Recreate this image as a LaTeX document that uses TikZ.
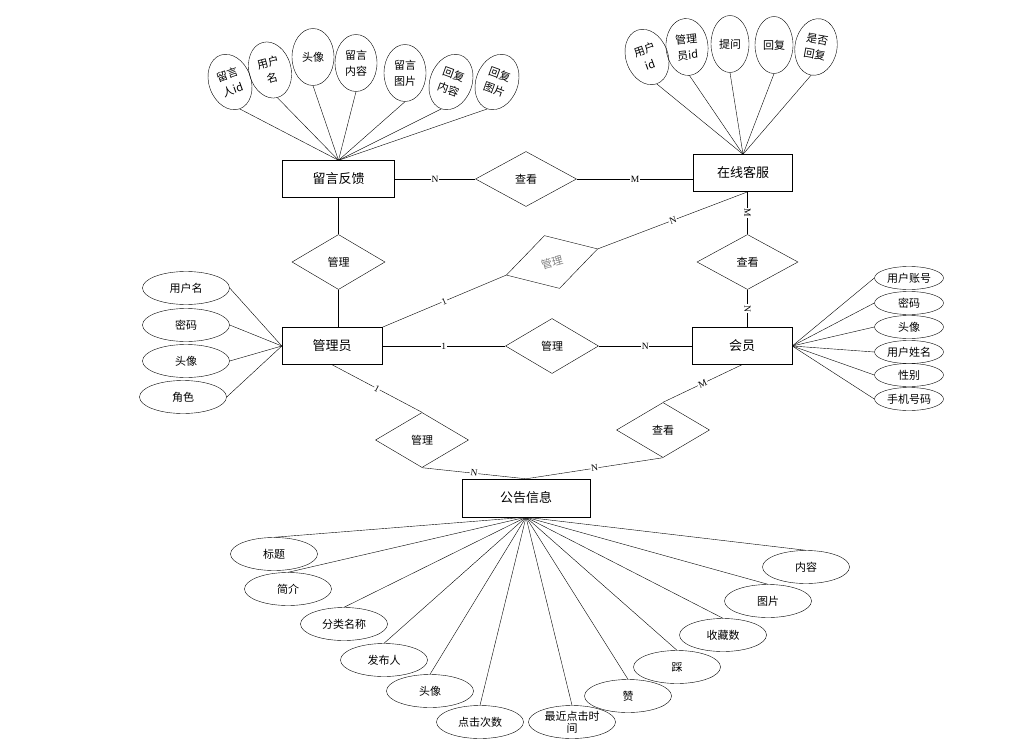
\documentclass[tikz,border=0pt]{standalone}
\usepackage{fontspec}
\newfontfamily\cjk{Noto Sans CJK SC}
\newfontfamily\cardfont{Liberation Serif}
\usetikzlibrary{shapes.geometric}

\begin{document}
\begin{tikzpicture}[x=1pt, y=-1pt,
	entity/.style={draw, rectangle, minimum width=100pt, minimum height=37pt, font=\cjk\fontsize{13}{15}\selectfont},
	relation/.style={draw, diamond, minimum width=93pt, minimum height=55pt, inner sep=0pt, font=\cjk\fontsize{11}{13}\selectfont},
	attr/.style={draw, ellipse, minimum width=87pt, minimum height=33pt, inner sep=0pt, align=center, font=\cjk\fontsize{11}{12}\selectfont},
	vattr/.style={draw, ellipse, minimum width=42pt, minimum height=57pt, inner sep=0pt, align=center, font=\cjk\fontsize{11}{16}\selectfont},
	sattr/.style={draw, ellipse, minimum width=69pt, minimum height=23pt, inner sep=0pt, font=\cjk\fontsize{11}{13}\selectfont},
	card/.style={fill=white, inner sep=0.6pt, sloped, font=\cardfont\fontsize{9.5}{10}\selectfont}]
	\useasboundingbox (0,0) rectangle (1016,746);

	% entities
	\node[entity, minimum width=112pt] (lyfk) at (338.5,179) {留言反馈};
	\node[entity, minimum width=99pt] (kf) at (743,173) {在线客服};
	\node[entity] (gly) at (332,346) {管理员};
	\node[entity] (hy) at (742,346) {会员};
	\node[entity, minimum width=128pt, minimum height=38pt] (ggxx) at (526,498) {公告信息};

	% relations
	\node[relation, minimum width=101pt] (ck1) at (526,179) {查看};
	\node[relation] (gl1) at (338.5,262) {管理};
	\node[relation, minimum width=95pt, rotate=16, text=gray] (gl2) at (552,262) {管理};
	\node[relation, minimum width=101pt] (ck2) at (747.5,262) {查看};
	\node[relation] (gl3) at (552,346) {管理};
	\node[relation] (gl4) at (422,440) {管理};
	\node[relation] (ck3) at (663,430) {查看};

	\draw (lyfk.east) -- node[card] {N} (ck1.west);
	\draw (ck1.east) -- node[card] {M} (ck1.east -| kf.west);
	\draw (lyfk.south) -- (gl1.north);
	\draw (gl1.south) -- (gl1.south |- gly.north);
	\draw (gly.north east) -- node[card] {1} (gl2.west);
	\draw (gl2.east) -- node[card] {N} ([xshift=5pt]kf.south);
	\draw (gly.east) -- node[card] {1} (gl3.west);
	\draw (gl3.east) -- node[card] {N} (hy.west);
	\draw (ck2.north |- kf.south) -- node[card] {M} (ck2.north);
	\draw (ck2.south) -- node[card] {N} (ck2.south |- hy.north);
	\draw (gly.south) -- node[card] {1} (gl4.north);
	\draw (gl4.south) -- node[card] {N} (ggxx.north);
	\draw (hy.south) -- node[card] {M} (ck3.north);
	\draw (ck3.south) -- node[card] {N} (ggxx.north);

	% 留言反馈 attributes
	\node[vattr, rotate=20] (lyrid) at (230,82) {留言\\人id};
	\node[vattr, rotate=15] (lyyhm) at (270,70) {用户\\名};
	\node[vattr] (lytx) at (313,57) {头像};
	\node[vattr] (lynr) at (356,63) {留言\\内容};
	\node[vattr] (lytp) at (405,73) {留言\\图片};
	\node[vattr, rotate=-20] (hfnr) at (451,82) {回复\\内容};
	\node[vattr, rotate=-20] (hftp) at (497,82) {回复\\图片};
	\draw (lyrid.south) -- (lyfk.north);
	\draw (lyyhm.south) -- (lyfk.north);
	\draw (lytx.south) -- (lyfk.north);
	\draw (lynr.south) -- (lyfk.north);
	\draw (lytp.south) -- (lyfk.north);
	\draw (hfnr.south) -- (lyfk.north);
	\draw (hftp.south) -- (lyfk.north);

	% 在线客服 attributes
	\node[vattr, rotate=20] (yhid) at (647,57) {用户\\id};
	\node[vattr, rotate=5] (glyid) at (687,47) {管理\\员id};
	\node[vattr, minimum width=38pt] (tw) at (730,44) {提问};
	\node[vattr, minimum width=38pt] (hf) at (774,45) {回复};
	\node[vattr, rotate=-10] (sfhf) at (816,47) {是否\\回复};
	\draw (yhid.south) -- (kf.north);
	\draw (glyid.south) -- (kf.north);
	\draw (tw.south) -- (kf.north);
	\draw (hf.south) -- (kf.north);
	\draw (sfhf.south) -- (kf.north);

	% 管理员 attributes
	\node[attr] (glyyhm) at (186,288) {用户名};
	\node[attr] (glymm) at (186,325) {密码};
	\node[attr] (glytx) at (186,361) {头像};
	\node[attr] (glyjs) at (183,397) {角色};
	\draw (glyyhm.east) -- (gly.west);
	\draw (glymm.east) -- (gly.west);
	\draw (glytx.east) -- (gly.west);
	\draw (glyjs.east) -- (gly.west);

	% 会员 attributes
	\node[sattr] (hyzh) at (909,278) {用户账号};
	\node[sattr] (hymm) at (909,303) {密码};
	\node[sattr] (hytx) at (909,327) {头像};
	\node[sattr] (hyxm) at (909,352) {用户姓名};
	\node[sattr] (hyxb) at (909,375) {性别};
	\node[sattr] (hysj) at (909,399) {手机号码};
	\draw (hy.east) -- (hyzh.west);
	\draw (hy.east) -- (hymm.west);
	\draw (hy.east) -- (hytx.west);
	\draw (hy.east) -- (hyxm.west);
	\draw (hy.east) -- (hyxb.west);
	\draw (hy.east) -- (hysj.west);

	% 公告信息 attributes
	\node[attr] (bt) at (274,554) {标题};
	\node[attr] (jj) at (288,589) {简介};
	\node[attr] (flmc) at (344,624) {分类名称};
	\node[attr] (fbr) at (384,660) {发布人};
	\node[attr] (ggtx) at (430,691) {头像};
	\node[attr] (djcs) at (480,722) {点击次数};
	\node[attr] (zjdj) at (572,722) {最近点击时\\间};
	\node[attr] (zan) at (628,696) {赞};
	\node[attr] (cai) at (677,667) {踩};
	\node[attr] (scs) at (723,635) {收藏数};
	\node[attr] (tp) at (768,601) {图片};
	\node[attr] (nr) at (806,567) {内容};
	\draw (ggxx.south) -- (bt.north);
	\draw (ggxx.south) -- (jj.north);
	\draw (ggxx.south) -- (flmc.north);
	\draw (ggxx.south) -- (fbr.north);
	\draw (ggxx.south) -- (ggtx.north);
	\draw (ggxx.south) -- (djcs.north);
	\draw (ggxx.south) -- (zjdj.north);
	\draw (ggxx.south) -- (zan.north);
	\draw (ggxx.south) -- (cai.north);
	\draw (ggxx.south) -- (scs.north);
	\draw (ggxx.south) -- (tp.north);
	\draw (ggxx.south) -- (nr.north);
\end{tikzpicture}
\end{document}
